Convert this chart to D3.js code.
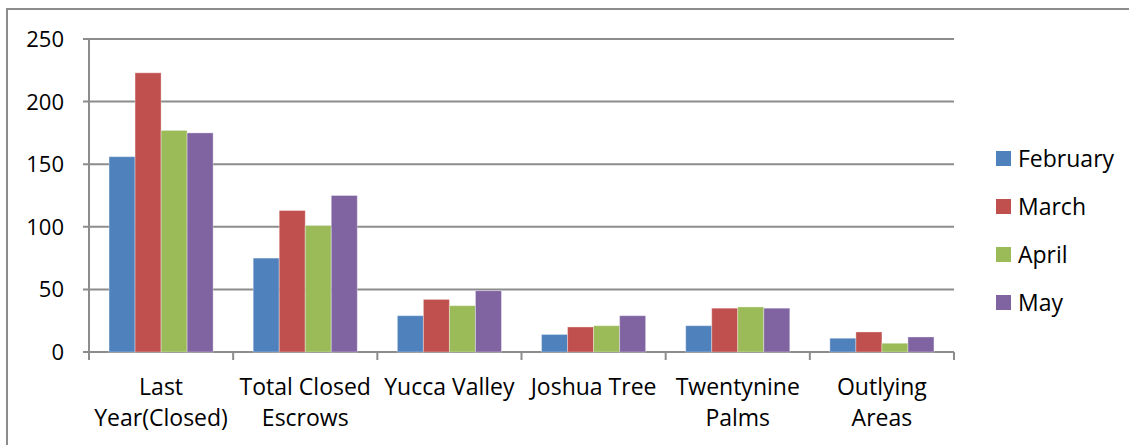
<html>

<head>
    <style>
        body { margin: 0; background: #fff; }
        text {
            font-family: "Open Sans", "Noto Sans", sans-serif;
            fill: #000;
        }
    </style>
</head>

<body>
    <svg id="chart"></svg>
</body>
<script src="https://cdn.jsdelivr.net/npm/d3@7"></script>
<script>
    // Data
    let categories = [["Last", "Year(Closed)"], ["Total Closed", "Escrows"], ["Yucca Valley"], ["Joshua Tree"], ["Twentynine", "Palms"], ["Outlying", "Areas"]]
    let months = ["February", "March", "April", "May"]
    let february = [156, 75, 29, 14, 21, 11]
    let march = [223, 113, 42, 20, 35, 16]
    let april = [177, 101, 37, 21, 36, 7]
    let may = [175, 125, 49, 29, 35, 12]
    let yTicks = [0, 50, 100, 150, 200, 250]
    let colors = ["#4F81BD", "#C0504D", "#9BBB59", "#8064A2"]

    let series = [february, march, april, may]
    let width = 1129, height = 445
    let plot = { left: 89, right: 954, top: 39, bottom: 352 }

    let svg = d3.select("#chart").attr("width", width).attr("height", height)

    // outer frame (cut off on the right and bottom)
    svg.append("rect")
        .attr("x", 7).attr("y", 9)
        .attr("width", 1200).attr("height", 500)
        .attr("fill", "none").attr("stroke", "#8c8c8c").attr("stroke-width", 2)

    let x = d3.scaleBand()
        .domain(d3.range(categories.length))
        .range([plot.left, plot.right])

    let xInner = d3.scaleBand()
        .domain(months)
        .range([0, x.bandwidth()])
        .paddingOuter(0.77)

    let y = d3.scaleLinear()
        .domain([0, 250])
        .range([plot.bottom, plot.top])

    // gridlines
    svg.append("g").selectAll("line")
        .data(yTicks)
        .enter().append("line")
        .attr("x1", plot.left - 6).attr("x2", plot.right)
        .attr("y1", d => y(d)).attr("y2", d => y(d))
        .attr("stroke", "#8c8c8c").attr("stroke-width", 2)

    // y labels
    svg.append("g").selectAll("text")
        .data(yTicks)
        .enter().append("text")
        .attr("x", 64)
        .attr("y", d => y(d))
        .attr("dy", "0.36em")
        .attr("text-anchor", "end")
        .attr("font-size", 22)
        .text(d => d)

    // bars
    let groups = svg.append("g").selectAll("g")
        .data(series)
        .enter().append("g")
        .attr("fill", (d, i) => colors[i])

    groups.selectAll("rect")
        .data((d, i) => d.map((v, c) => ({ v, c, m: months[i] })))
        .enter().append("rect")
        .attr("x", d => x(d.c) + xInner(d.m))
        .attr("width", xInner.bandwidth())
        .attr("y", d => y(d.v))
        .attr("height", d => y(0) - y(d.v))
        .attr("stroke", "rgba(255,255,255,0.35)")
        .attr("stroke-width", 1)

    // axes lines
    svg.append("line")
        .attr("x1", plot.left).attr("x2", plot.left)
        .attr("y1", plot.top).attr("y2", plot.bottom + 8)
        .attr("stroke", "#8c8c8c").attr("stroke-width", 2)

    svg.append("g").selectAll("line")
        .data(d3.range(categories.length + 1))
        .enter().append("line")
        .attr("x1", d => plot.left + d * x.step()).attr("x2", d => plot.left + d * x.step())
        .attr("y1", plot.bottom).attr("y2", plot.bottom + 8)
        .attr("stroke", "#8c8c8c").attr("stroke-width", 2)

    // category labels
    let labels = svg.append("g").selectAll("text")
        .data(categories)
        .enter().append("text")
        .attr("text-anchor", "middle")
        .attr("font-size", 23)

    labels.selectAll("tspan")
        .data((d, i) => d.map(t => ({ t, i })))
        .enter().append("tspan")
        .attr("x", d => x(d.i) + x.bandwidth() / 2)
        .attr("y", (d, j) => 395 + j * 31)
        .text(d => d.t)

    // legend
    let legend = svg.append("g").selectAll("g")
        .data(months)
        .enter().append("g")
        .attr("transform", (d, i) => `translate(996,${151 + i * 48})`)

    legend.append("rect")
        .attr("width", 15).attr("height", 15)
        .attr("fill", (d, i) => colors[i])

    legend.append("text")
        .attr("x", 22).attr("y", 7.5)
        .attr("dy", "0.36em")
        .attr("font-size", 23)
        .text(d => d)
</script>

</html>
